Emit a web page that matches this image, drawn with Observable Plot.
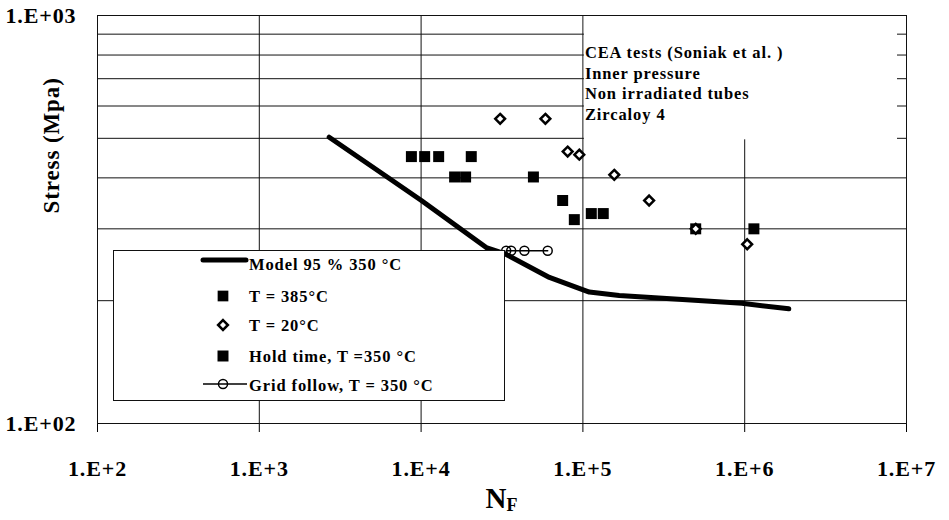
<!DOCTYPE html>
<html><head><meta charset="utf-8">
<script src="https://cdn.jsdelivr.net/npm/d3@7"></script>
<script src="https://cdn.jsdelivr.net/npm/@observablehq/plot@0.6"></script>
<style>
body{margin:0;background:#fff;}
#chart{position:relative;width:949px;height:520px;}
</style></head><body><div id="chart"></div>
<script>
const FONT = '"Liberation Serif","Times New Roman",Times,serif';

// Model 95 % 350 °C
const modelN = [2704, 6400, 10040, 25270, 32750, 62080, 109500, 167600, 961000, 1873000];
const modelS = [503, 398, 352, 270, 261, 228, 210, 206, 197, 191];
// T = 385°C
const t385N = [8710, 10520, 12840, 20420, 16110, 18840];
const t385S = [451, 451, 451, 451, 402, 402];
// T = 20°C
const t20N = [30800, 58650, 80500, 95000, 156300, 256600, 498000, 1036000];
const t20S = [558, 558, 464, 456, 407, 352, 300, 275];
// Hold time, T = 350 °C
const holdN = [49450, 74970, 88500, 112700, 133600, 498000, 1140000];
const holdS = [402, 352, 316, 327, 327, 300, 300];
// Grid follow, T = 350 °C
const gridN = [33570, 36030, 43500, 60600];
const gridS = [265, 265, 265, 265];

const xTicks = [1e2, 1e3, 1e4, 1e5, 1e6, 1e7];
const xTickLabels = ["1.E+2", "1.E+3", "1.E+4", "1.E+5", "1.E+6", "1.E+7"];
const yTicks = [100, 1000];
const yTickLabels = ["1.E+02", "1.E+03"];
const gridX = [1e3, 1e4, 1e5, 1e6];
const gridY = [200, 300, 400, 500, 600, 700, 800, 900];

const annotLines = ["CEA tests (Soniak et al. )", "Inner pressure", "Non irradiated tubes", "Zircaloy 4"];
const annotX = [1e5, 1e7];
const annotY = [500, 1000];

const legendLabels = ["Model 95 % 350 °C", "T = 385°C", "T = 20°C", "Hold time, T =350 °C", "Grid follow, T = 350 °C"];
const yLabel = "Stress (Mpa)";

const zip = (a, b) => a.map((n, i) => ({n, s: b[i]}));
const model = zip(modelN, modelS);
const t385 = zip(t385N, t385S);
const t20 = zip(t20N, t20S);
const hold = zip(holdN, holdS);
const grid = zip(gridN, gridS);

const plot = Plot.plot({
  width: 949, height: 520,
  marginLeft: 97, marginRight: 43, marginTop: 15, marginBottom: 97,
  style: {fontFamily: FONT, fontSize: "22px", fontWeight: "bold", color: "#000", background: "#fff", letterSpacing: "0.9px"},
  x: {type: "log", domain: [1e2, 1e7], ticks: xTicks, tickFormat: d => xTickLabels[xTicks.indexOf(d)], tickSize: 9, tickPadding: 28, label: null},
  y: {type: "log", domain: [100, 1000], ticks: yTicks, tickFormat: d => yTickLabels[yTicks.indexOf(d)], tickSize: 0, tickPadding: 21, label: null},
  marks: [
    Plot.ruleY(gridY, {stroke: "#111", strokeWidth: 1}),
    Plot.ruleX(gridX, {stroke: "#111", strokeWidth: 1}),
    Plot.rect([0], {x1: () => annotX[0], x2: () => annotX[1], y1: () => annotY[0], y2: () => annotY[1], fill: "white", insetLeft: 1.5, insetRight: 9, insetBottom: -1.5}),
    Plot.frame({stroke: "#111", strokeWidth: 1}),
    Plot.line(model, {x: "n", y: "s", stroke: "#000", strokeWidth: 5, strokeLinecap: "round", strokeLinejoin: "round"}),
    Plot.line(grid, {x: "n", y: "s", stroke: "#000", strokeWidth: 1.5}),
    Plot.dot(grid, {x: "n", y: "s", symbol: "circle", r: 4.5, stroke: "#000", strokeWidth: 1.5, fill: "none"}),
    Plot.dot(t385, {x: "n", y: "s", symbol: "square", r: 6.2, fill: "#000", stroke: "none"}),
    Plot.dot(hold, {x: "n", y: "s", symbol: "square", r: 6.2, fill: "#000", stroke: "none"}),
    Plot.dot(t20, {x: "n", y: "s", symbol: "diamond2", r: 4.4, stroke: "#000", strokeWidth: 2.5, fill: "white"}),
    Plot.text([annotLines.join("\n")], {x: () => annotX[0], y: () => annotY[1], text: d => d, textAnchor: "start", lineAnchor: "top", lineHeight: 1.25, dx: 2, dy: 28, fontSize: 16.5, fontWeight: "bold", fill: "#000"}),
    Plot.text([yLabel], {text: d => d, frameAnchor: "left", rotate: -90, dx: -46, dy: -6, fontSize: 23, fontWeight: "bold", fill: "#000"})
  ]
});

document.getElementById("chart").appendChild(plot);

const svg = d3.select(plot);
// X axis title with subscript
const xt = svg.append("text")
  .attr("x", 501.5).attr("y", 508)
  .attr("text-anchor", "middle")
  .style("font-family", FONT).style("font-weight", "bold").style("font-size", "29px").style("letter-spacing", "0px")
  .attr("fill", "#000");
xt.append("tspan").text("N");
xt.append("tspan").attr("dy", 3).style("font-size", "18px").text("F");

// Legend box
const lg = svg.append("g").style("font-family", FONT).style("font-weight", "bold").style("font-size", "16.5px").attr("text-anchor", "start");
lg.append("rect").attr("x", 113.5).attr("y", 250.5).attr("width", 391).attr("height", 150)
  .attr("fill", "white").attr("stroke", "#111").attr("stroke-width", 1);
const sym = (type, size) => d3.symbol(type, size)();
const rowsY = [264, 296, 325, 356, 385];
// row 1: thick line
lg.append("line").attr("x1", 203).attr("x2", 246).attr("y1", 260).attr("y2", 260)
  .attr("stroke", "#000").attr("stroke-width", 5).attr("stroke-linecap", "round");
// row 2: square
lg.append("path").attr("d", sym(d3.symbolSquare, Math.PI * 6.2 * 6.2 * 0.95)).attr("transform", `translate(223,${rowsY[1]})`).attr("fill", "#000");
// row 3: diamond
lg.append("path").attr("d", sym(d3.symbolDiamond2, Math.PI * 4.4 * 4.4)).attr("transform", `translate(223,${rowsY[2]})`)
  .attr("fill", "white").attr("stroke", "#000").attr("stroke-width", 2.5);
// row 4: square
lg.append("path").attr("d", sym(d3.symbolSquare, Math.PI * 6.2 * 6.2)).attr("transform", `translate(223,${rowsY[3]})`).attr("fill", "#000");
// row 5: line + circle
lg.append("line").attr("x1", 203).attr("x2", 247).attr("y1", 384).attr("y2", 384).attr("stroke", "#000").attr("stroke-width", 1.5);
lg.append("circle").attr("cx", 223).attr("cy", 384).attr("r", 4.5).attr("fill", "none").attr("stroke", "#000").attr("stroke-width", 1.5);
legendLabels.forEach((t, i) => {
  lg.append("text").attr("x", 249).attr("y", rowsY[i]).attr("dy", "0.35em").attr("text-anchor", "start").attr("fill", "#000").text(t);
});
</script></body></html>
